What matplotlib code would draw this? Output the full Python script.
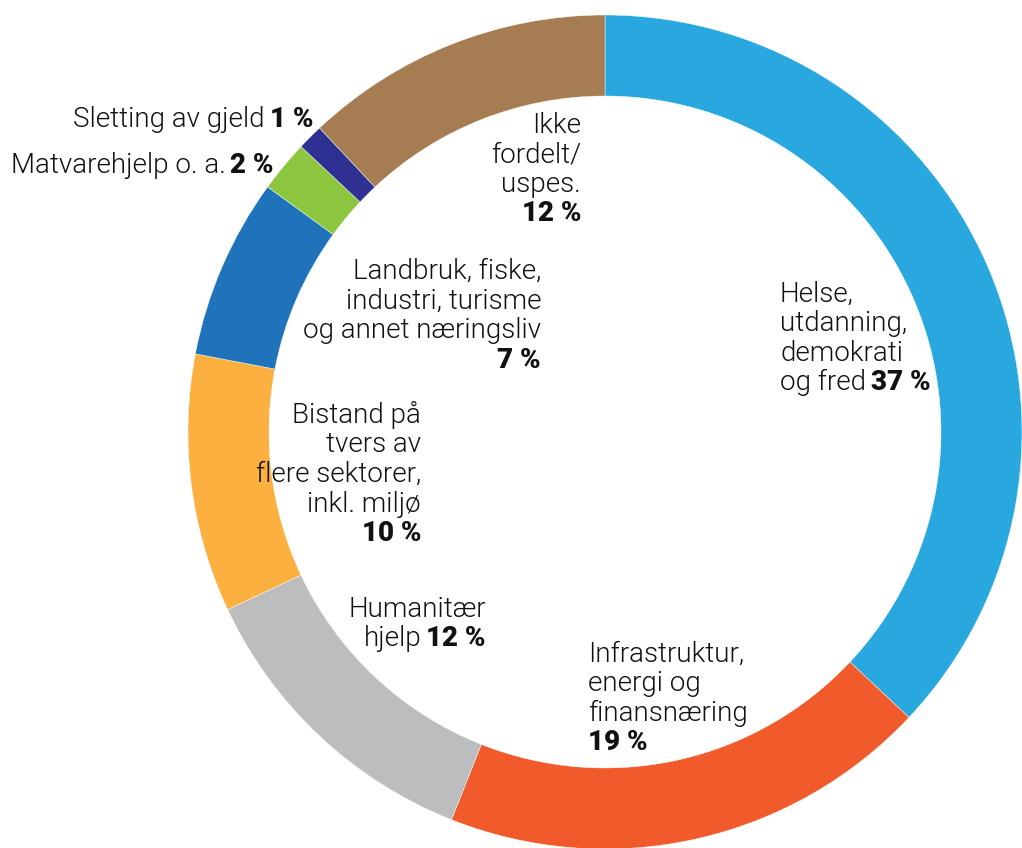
import matplotlib.pyplot as plt

plt.rcParams["font.family"] = ["Roboto", "DejaVu Sans"]

# data, clockwise from 12 o'clock
kategorier = ["Helse, utdanning, demokrati og fred", "Infrastruktur, energi og finansnæring",
              "Humanitær hjelp", "Bistand på tvers av flere sektorer, inkl. miljø",
              "Landbruk, fiske, industri, turisme og annet næringsliv",
              "Matvarehjelp o. a.", "Sletting av gjeld", "Ikke fordelt/uspes."]
andel = [37, 19, 12, 10, 7, 2, 1, 12]
farger = ["#29A8E0", "#F15A2B", "#BCBDBF", "#FBB040", "#1E73BA", "#8CC63F", "#2E3192", "#A67C52"]

W, H = 1022, 848
fig = plt.figure(figsize=(W / 100, H / 100), dpi=100)
ax = fig.add_axes([0, 0, 1, 1])

cx, cy, R = 605, H - 432, 417
ax.pie(andel, colors=farger, startangle=90, counterclock=False,
       center=(cx, cy), radius=R,
       wedgeprops=dict(width=81, edgecolor="white", linewidth=0.3))
ax.set_xlim(0, W)
ax.set_ylim(0, H)
ax.set_aspect("equal")
ax.axis("off")

FS = 20
renderer = fig.canvas.get_renderer()


def tekst(x, y, linjer, ha="left", gap=5, dy=29.3):
    # linjer: list of lists of (tekst, fet)
    for i, segs in enumerate(linjer):
        yy = H - (y + i * dy)
        arts = []
        for s, fet in segs:
            t = ax.text(0, yy, s, fontsize=FS, color="#111111",
                        fontweight=900 if fet else 300, va="baseline", ha="left")
            arts.append(t)
        widths = [a.get_window_extent(renderer).width for a in arts]
        total = sum(widths) + gap * (len(arts) - 1)
        x0 = x - total if ha == "right" else x
        for a, w in zip(arts, widths):
            a.set_x(x0)
            x0 += w + gap


tekst(780, 302, [[("Helse,", 0)], [("utdanning,", 0)], [("demokrati", 0)],
                 [("og fred", 0), ("37 %", 1)]])
tekst(588, 662, [[("Infrastruktur,", 0)], [("energi og", 0)], [("finansnæring", 0)],
                 [("19 %", 1)]])
tekst(486, 617, [[("Humanitær", 0)], [("hjelp", 0), ("12 %", 1)]], ha="right")
tekst(421, 423, [[("Bistand på", 0)], [("tvers av", 0)], [("flere sektorer,", 0)],
                 [("inkl. miljø", 0)], [("10 %", 1)]], ha="right", dy=29.5)
tekst(541, 279, [[("Landbruk, fiske,", 0)], [("industri, turisme", 0)],
                 [("og annet næringsliv", 0)], [("7 %", 1)]], ha="right", dy=29.5)
tekst(581, 133, [[("Ikke", 0)], [("fordelt/", 0)], [("uspes.", 0)], [("12 %", 1)]],
      ha="right", dy=29.3)
tekst(313, 127, [[("Sletting av gjeld", 0), ("1 %", 1)]], ha="right")
tekst(274, 173, [[("Matvarehjelp o. a.", 0), ("2 %", 1)]], ha="right")

fig.savefig("out.png", dpi=100)
